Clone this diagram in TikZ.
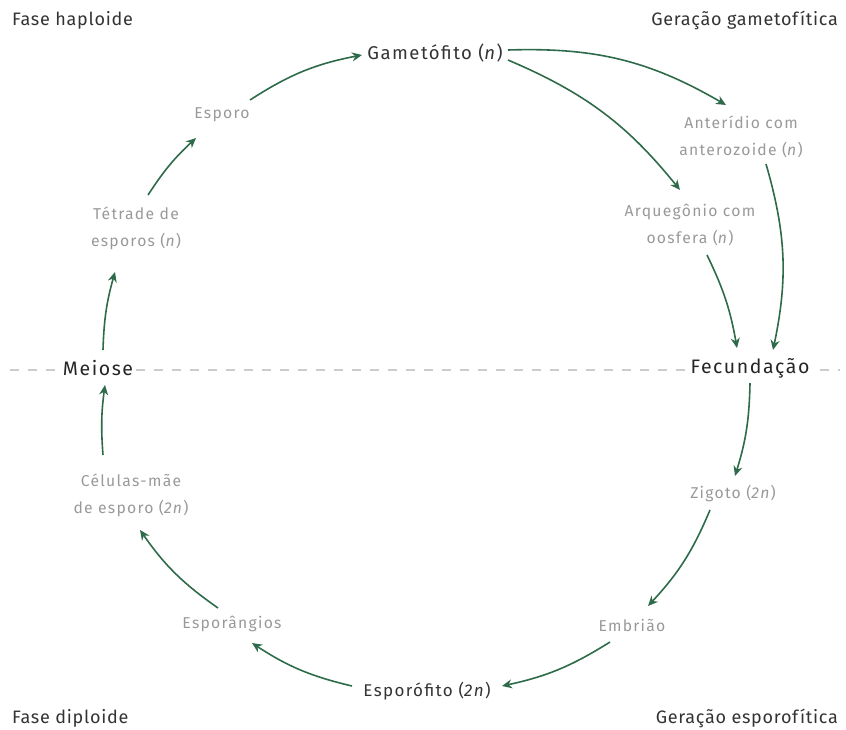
\documentclass[tikz,border=0pt]{standalone}
\usepackage{fontspec}
\setmainfont{Fira Sans}
\newfontfamily\leve[LetterSpace=8]{Fira Sans}
\newfontfamily\largo[LetterSpace=4]{Fira Sans}
\usetikzlibrary{arrows.meta}
\definecolor{ciclo}{HTML}{2E6B4A}
\definecolor{rotulo}{HTML}{999999}
\definecolor{escuro}{HTML}{333333}

\begin{document}
\begin{tikzpicture}[x=1pt,y=-1pt,
  etapa/.style={text=rotulo,font=\leve\fontsize{15.7}{27}\selectfont,align=center,inner sep=1pt},
  forte/.style={text=escuro,font=\leve\fontsize{18.5}{22}\selectfont,inner sep=1pt},
  marco/.style={text=black!85,font=\leve\fontsize{19.5}{22}\selectfont,fill=white,inner sep=3pt},
  canto/.style={text=escuro,font=\largo\fontsize{18}{21}\selectfont,inner sep=0pt},
  seta/.style={ciclo,line width=1.6pt,-{Stealth[length=10pt,width=9pt]}}]
\useasboundingbox (0,0) rectangle (846,729);

% linha que separa as fases
\draw[black!20,line width=1.5pt,dash pattern=on 9pt off 9pt] (10,370)--(840,370);

% cantos
\node[canto,anchor=west] (hap) at (12,20) {Fase haploide};
\node[canto,anchor=east] (gmt) at (838,20) {Geração gametofítica};
\node[canto,anchor=west] (dip) at (12,718) {Fase diploide};
\node[canto,anchor=east] (esf) at (838,718) {Geração esporofítica};

% etapas do ciclo
\node[forte] (gam) at (435,53) {Gametófito (\textit{n})};
\node[etapa] (ant) at (741,137) {Anterídio com\\anterozoide (\textit{n})};
\node[etapa] (arq) at (690,225) {Arquegônio com\\oosfera (\textit{n})};
\node[marco] (fec) at (750,368) {Fecundação};
\node[etapa] (zig) at (733,494) {Zigoto (\textit{2n})};
\node[etapa] (emb) at (632,625) {Embrião};
\node[forte,font=\leve\fontsize{17}{20}\selectfont] (spf) at (427,691) {Esporófito (\textit{2n})};
\node[etapa] (spg) at (232,624) {Esporângios};
\node[etapa] (cel) at (131,495) {Células-mãe\\de esporo (\textit{2n})};
\node[marco] (mei) at (98,368) {Meiose};
\node[etapa] (tet) at (136,228) {Tétrade de\\esporos (\textit{n})};
\node[etapa] (esp) at (222,115) {Esporo};

% setas
\draw[seta] ([shift={(73,-3)}]gam.center) to[bend left=16] ([shift={(-15,-32)}]ant.center);
\draw[seta] ([shift={(73,7)}]gam.center) to[bend left=14] ([shift={(-10,-35)}]arq.center);
\draw[seta] ([shift={(25,27)}]ant.center) to[bend left=14] ([shift={(23,-18)}]fec.center);
\draw[seta] ([shift={(17,30)}]arq.center) to[bend left=8] ([shift={(-13,-20)}]fec.center);
\draw[seta] ([shift={(0,15)}]fec.center) to[bend left=8] ([shift={(2,-18)}]zig.center);
\draw[seta] ([shift={(-23,16)}]zig.center) to[bend left=10] ([shift={(16,-19)}]emb.center);
\draw[seta] ([shift={(-22,17)}]emb.center) to[bend left=10] ([shift={(75,-5)}]spf.center);
\draw[seta] ([shift={(-75,-5)}]spf.center) to[bend left=10] ([shift={(20,19)}]spg.center);
\draw[seta] ([shift={(-14,-16)}]spg.center) to[bend left=10] ([shift={(9,35)}]cel.center);
\draw[seta] ([shift={(-28,-40)}]cel.center) to[bend left=6] ([shift={(7,17)}]mei.center);
\draw[seta] ([shift={(5,-18)}]mei.center) to[bend left=7] ([shift={(-21,44)}]tet.center);
\draw[seta] ([shift={(12,-33)}]tet.center) to[bend left=7] ([shift={(-26,23)}]esp.center);
\draw[seta] ([shift={(28,-15)}]esp.center) to[bend left=11] ([shift={(-73,2)}]gam.center);
\end{tikzpicture}
\end{document}
